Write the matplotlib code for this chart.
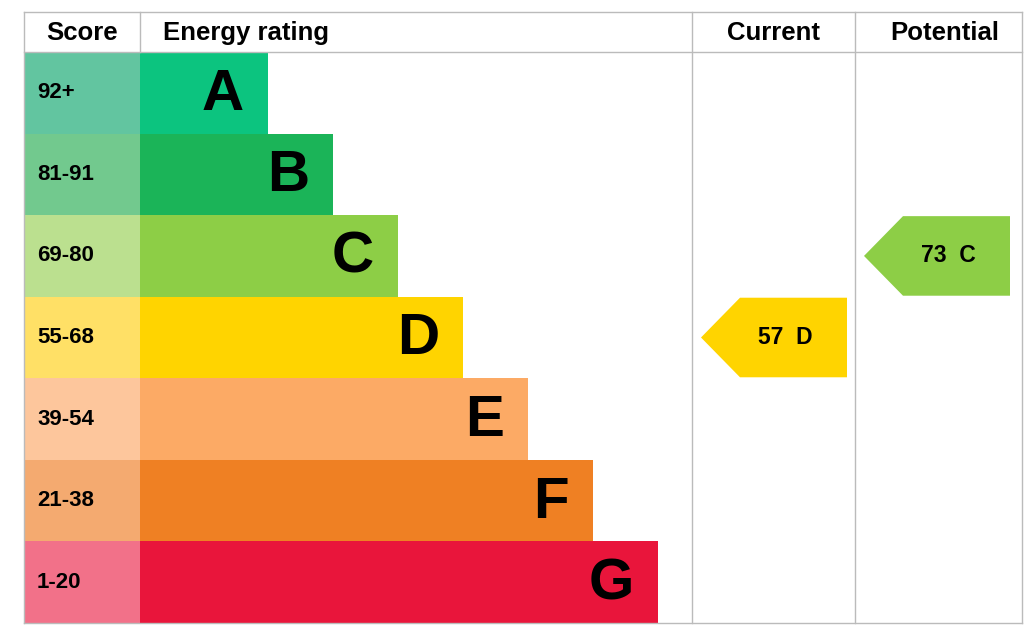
import matplotlib
matplotlib.use("Agg")
import matplotlib.pyplot as plt
from matplotlib.patches import Rectangle, Polygon

bands = ["A", "B", "C", "D", "E", "F", "G"]
scores = ["92+", "81-91", "69-80", "55-68", "39-54", "21-38", "1-20"]
bar_colors = ["#0cc47f", "#1bb458", "#8dce46", "#ffd400", "#fcaa65", "#ef8023", "#e9153b"]
score_colors = ["#62c5a0", "#72c98e", "#bbe08f", "#ffe066", "#fdc69c", "#f4aa70", "#f27189"]
current_value, current_band = 57, "D"
potential_value, potential_band = 73, "C"

W, H = 1024, 627
fig = plt.figure(figsize=(W/100, H/100), dpi=100)
ax = fig.add_axes([0, 0, 1, 1])
ax.set_xlim(0, W); ax.set_ylim(H, 0); ax.axis("off")
FONT = "Liberation Sans"

L, T, HB, B = 24, 12, 52, 623
XS, XC, XP, R = 140, 692, 855, 1022
rh = (B - HB) / len(bands)
gc = "#bbbbbb"

for i, (b, s) in enumerate(zip(bands, scores)):
    y0 = HB + i * rh
    ax.add_patch(Rectangle((L, y0), XS - L, rh, color=score_colors[i], lw=0))
    x1 = XS + 128 + i * 65
    ax.add_patch(Rectangle((XS, y0), x1 - XS, rh, color=bar_colors[i], lw=0))
    ax.text(L + 13, y0 + rh/2, s, fontsize=16, fontweight="bold", family=FONT, va="center", ha="left")
    ax.text(x1 - 24, y0 + rh/2 + 2, b, fontsize=42, fontweight="bold", family=FONT, va="center", ha="right")

for x in (L, XC, XP, R):
    ax.plot([x, x], [T, B], color=gc, lw=1)
ax.plot([XS, XS], [T, HB], color=gc, lw=1)
for y in (T, HB, B):
    ax.plot([L, R], [y, y], color=gc, lw=1)

for txt, x in (("Score", 82), ("Energy rating", 163), ("Current", 773), ("Potential", 945)):
    ax.text(x, 33, txt, fontsize=18.5, fontweight="bold", family=FONT, va="center",
            ha="left" if txt == "Energy rating" else "center")

def arrow(val, band, xl, xr):
    i = bands.index(band)
    y0 = HB + i * rh + 1; y1 = y0 + rh - 2; ym = (y0 + y1) / 2
    tip = xl + 9; nb = tip + 39
    ax.add_patch(Polygon([(tip, ym), (nb, y0), (xr, y0), (xr, y1), (nb, y1)], closed=True,
                         color=bar_colors[i], lw=0))
    ax.text((nb + xr) / 2 - 8, ym, f"{val}  {band}", fontsize=16.5, fontweight="bold", family=FONT,
            va="center", ha="center")

arrow(current_value, current_band, XC, 847)
arrow(potential_value, potential_band, XP, 1010)

fig.savefig("out.png", dpi=100, facecolor="white")
